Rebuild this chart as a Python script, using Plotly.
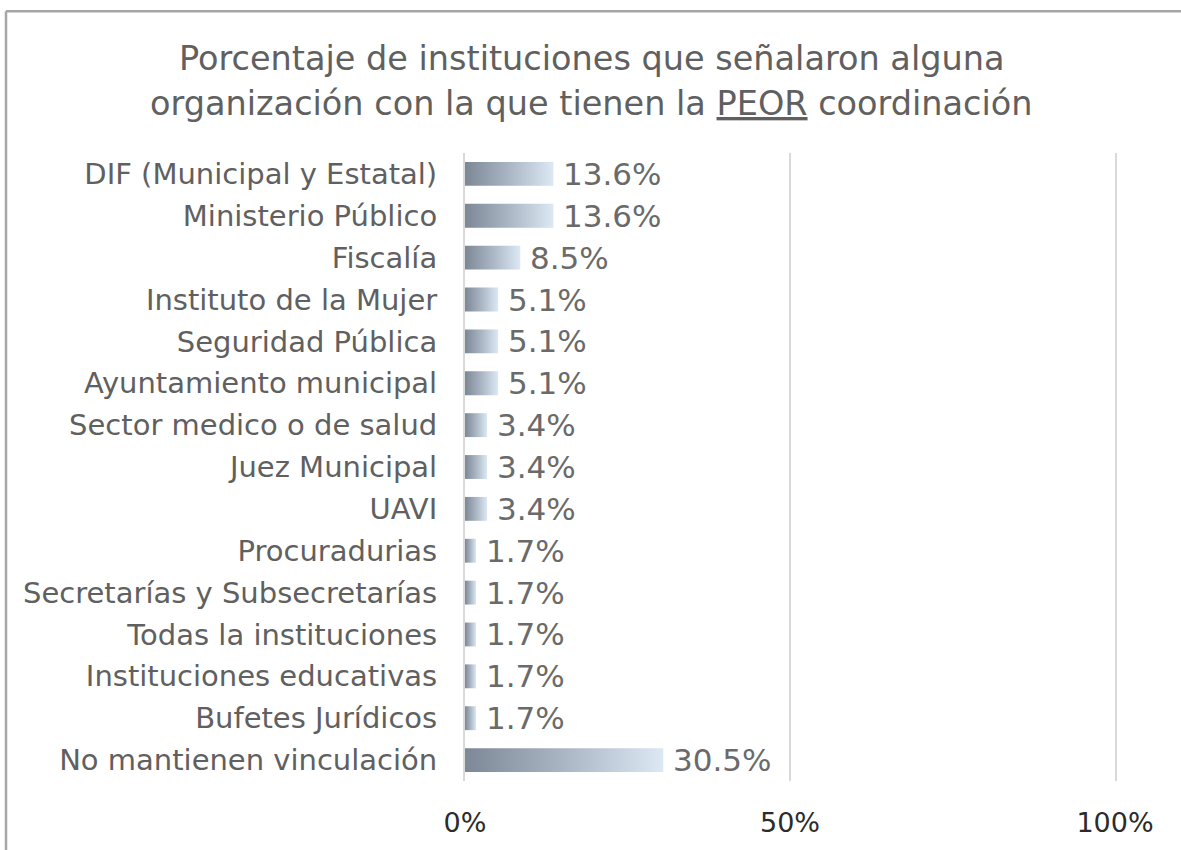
import plotly.graph_objects as go

# Institutions and the share (%) naming each as the one with the worst coordination
categories = [
    "DIF (Municipal y Estatal)",
    "Ministerio Público",
    "Fiscalía",
    "Instituto de la Mujer",
    "Seguridad Pública",
    "Ayuntamiento municipal",
    "Sector medico o de salud",
    "Juez Municipal",
    "UAVI",
    "Procuradurias",
    "Secretarías y Subsecretarías",
    "Todas la instituciones",
    "Instituciones educativas",
    "Bufetes Jurídicos",
    "No mantienen vinculación",
]
values = [13.6, 13.6, 8.5, 5.1, 5.1, 5.1, 3.4, 3.4, 3.4, 1.7, 1.7, 1.7, 1.7, 1.7, 30.5]

x_tick_vals = [0, 50, 100]
x_tick_text = ["0%", "50%", "100%"]

title_line1 = "Porcentaje de instituciones que señalaron alguna"
title_line2 = "organización con la que tienen la <u>PEOR</u> coordinación"

# Layout geometry (pixels)
W, H = 1181, 850
M_L, M_R, M_T, M_B = 465, 66, 153, 66
PLOT_W = W - M_L - M_R
PLOT_H = H - M_T - M_B

FONT = "DejaVu Sans"
GREY = "#606060"
GRID = "#d9d9d9"
BAR_HALF = 0.285
GRAD = [[0.0, "#7c8895"], [0.5, "#aab6c3"], [1.0, "#dce8f4"]]


def px_to_paper_x(px):
    return (px - M_L) / PLOT_W


def px_to_paper_y(py):
    return (H - M_B - py) / PLOT_H


fig = go.Figure()

# Bars as filled rectangles so each one carries a left-to-right gradient
for i, v in enumerate(values):
    fig.add_trace(go.Scatter(
        x=[0, v, v, 0, 0],
        y=[i - BAR_HALF, i - BAR_HALF, i + BAR_HALF, i + BAR_HALF, i - BAR_HALF],
        mode="lines",
        line=dict(width=0, color="rgba(0,0,0,0)"),
        fill="toself",
        fillgradient=dict(type="horizontal", colorscale=GRAD),
        hoverinfo="skip",
        showlegend=False,
    ))

# Value labels
for i, v in enumerate(values):
    fig.add_annotation(
        x=v, y=i, xref="x", yref="y",
        text=f"{v:.1f}%",
        showarrow=False, xanchor="left", yanchor="middle", xshift=8,
        font=dict(family=FONT, size=31, color="#6a6a6a"),
    )

# Two-line title
for text, py in [(title_line1, 58), (title_line2, 103)]:
    fig.add_annotation(
        x=px_to_paper_x(591), y=px_to_paper_y(py), xref="paper", yref="paper",
        text=text, showarrow=False, xanchor="center", yanchor="middle",
        font=dict(family=FONT, size=33.5, color=GREY),
    )

# Frame around the chart (top and left edges visible)
fig.add_shape(
    type="line", xref="paper", yref="paper",
    x0=px_to_paper_x(6), x1=px_to_paper_x(W + 5),
    y0=px_to_paper_y(10.5), y1=px_to_paper_y(10.5),
    line=dict(color="#a6a6a6", width=2.5),
)
fig.add_shape(
    type="line", xref="paper", yref="paper",
    x0=px_to_paper_x(6), x1=px_to_paper_x(6),
    y0=px_to_paper_y(10.5), y1=px_to_paper_y(H + 5),
    line=dict(color="#a6a6a6", width=2.5),
)

fig.update_layout(
    width=W, height=H,
    margin=dict(l=M_L, r=M_R, t=M_T, b=M_B),
    paper_bgcolor="white", plot_bgcolor="white",
    showlegend=False,
    xaxis=dict(
        range=[0, 100], tickvals=x_tick_vals, ticktext=x_tick_text,
        showgrid=True, gridcolor=GRID, gridwidth=2,
        zeroline=False, showline=False,
        ticks="", ticklabelstandoff=23,
        tickfont=dict(family=FONT, size=27, color="#2b2b2b"),
        fixedrange=True,
    ),
    yaxis=dict(
        range=[len(categories) - 0.5, -0.5],
        tickvals=list(range(len(categories))), ticktext=categories,
        showgrid=False, zeroline=False,
        # left/right axis lines act as the 0% and 100% grid lines
        showline=True, mirror=True, linecolor=GRID, linewidth=2,
        ticks="", ticklabelstandoff=20,
        tickfont=dict(family=FONT, size=29, color=GREY),
        fixedrange=True,
    ),
)

fig.write_html("out.html")
